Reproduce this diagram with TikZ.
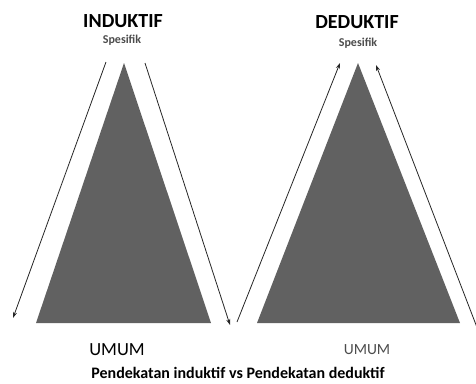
\documentclass[tikz,border=0pt]{standalone}
\usepackage{fontspec}
\setmainfont{Carlito}
\usetikzlibrary{arrows.meta}
\begin{document}
\begin{tikzpicture}[x=1pt,y=-1pt,
  tri/.style={fill=black!62, draw=none},
  flow/.style={draw=black!85, line width=0.8pt, -{Stealth[length=6pt,width=4pt]}},
  title/.style={font=\fontsize{20}{22}\selectfont\bfseries, inner sep=0pt},
  sub/.style={font=\fontsize{12}{13}\selectfont\bfseries, text=black!70, inner sep=0pt},
  umum/.style={font=\fontsize{18.5}{20}\selectfont, inner sep=0pt},
  caption/.style={font=\fontsize{16}{18}\selectfont\bfseries, inner sep=0pt}]
\useasboundingbox (0,0) rectangle (476,383);
% triangles
\fill[tri] (124,63) -- (211,323) -- (36,323) -- cycle;
\fill[tri] (358,63) -- (460,323) -- (257,323) -- cycle;
% texts
\node[title] (ind) at (123,21) {INDUKTIF};
\node[sub] (sp1) at (122,40) {Spesifik};
\node[title] (ded) at (357,22) {DEDUKTIF};
\node[sub] (sp2) at (358,43) {Spesifik};
\node[umum] (u1) at (117,350) {UMUM};
\node[umum, font=\fontsize{15.5}{17}\selectfont, text=black!70] (u2) at (367,350) {UMUM};
\node[caption] (cap) at (238,373) {Pendekatan induktif vs Pendekatan deduktif};
% arrow endpoints
\coordinate (a1s) at (106,62);
\coordinate (a1e) at (13,318);
\coordinate (a2s) at (145,63);
\coordinate (a2e) at (230,325);
\coordinate (b1s) at (237,322);
\coordinate (b1e) at (340,63);
\coordinate (b2s) at (478,330);
\coordinate (b2e) at (376,65);
\draw[flow] (a1s) -- (a1e);
\draw[flow] (a2s) -- (a2e);
\draw[flow] (b1s) -- (b1e);
\draw[flow] (b2s) -- (b2e);
\end{tikzpicture}
\end{document}
